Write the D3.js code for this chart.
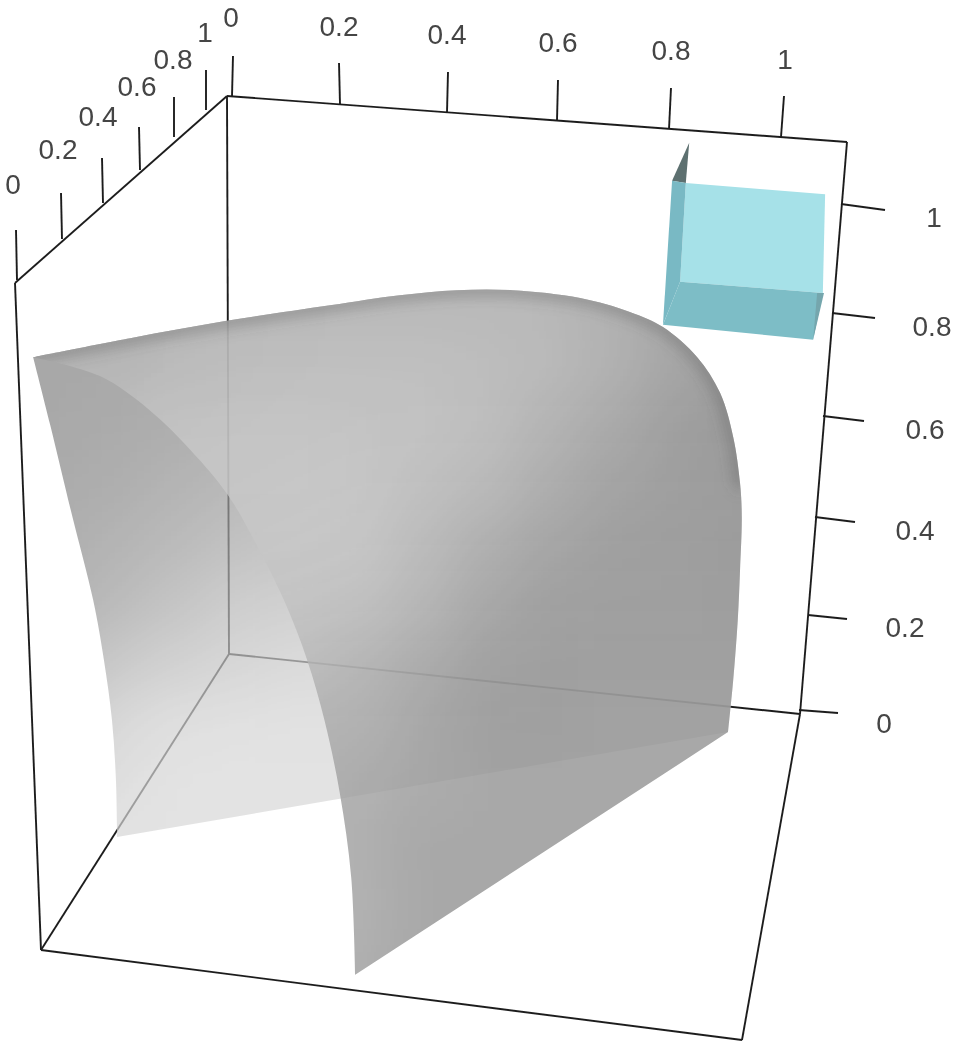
<!DOCTYPE html>
<html lang="en">
<head>
<meta charset="UTF-8">
<title>Surface in a unit box</title>
<script src="https://d3js.org/d3.v7.min.js"></script>
<style>
  html, body { margin: 0; padding: 0; background: #fff; }
  svg { display: block; }
  text { font-family: "Liberation Sans", Arial, sans-serif; font-size: 28px; fill: #444; text-anchor: middle; dominant-baseline: central; }
</style>
</head>
<body>
<svg width="957" height="1048"></svg>
<script>
// tick values, same on all three axes
const tickValues = [0, 0.2, 0.4, 0.6, 0.8, 1];
const tickLabels = ["0", "0.2", "0.4", "0.6", "0.8", "1"];

// surface outlines as [u, w], read against the back wall of the box (u along floor edge, w up)
const domeCurve = [[-0.343,0.532],[-0.173,0.566],[-0.004,0.597],[0.177,0.625],[0.299,0.643],[0.399,0.652],[0.497,0.652],
  [0.615,0.638],[0.702,0.613],[0.760,0.586],[0.820,0.532],[0.860,0.468],[0.883,0.389],[0.895,0.306],[0.898,0.246],
  [0.895,0.151],[0.891,0.061],[0.883,-0.047],[0.874,-0.140]];
const ridgeCurve = [[-0.343,0.532],[-0.226,0.498],[-0.138,0.436],[-0.068,0.366],[-0.002,0.285],[0.044,0.204],[0.096,0.097],
  [0.137,-0.011],[0.167,-0.118],[0.194,-0.249],[0.214,-0.400],[0.221,-0.575]];
const sideCurve = [[-0.343,0.532],[-0.313,0.410],[-0.275,0.249],[-0.238,0.097],[-0.219,-0.011],[-0.205,-0.118],
  [-0.198,-0.226],[-0.196,-0.328]];

// cyan box faces
const cubeSpike = [[0.806,0.916],[0.776,0.848],[0.800,0.844]];
const cubeBack = [[0.800,0.844],[1.044,0.824],[1.040,0.647],[0.790,0.667]];
const cubeLeft = [[0.776,0.848],[0.800,0.844],[0.790,0.667],[0.760,0.590]];
const cubeFloor = [[0.790,0.667],[1.040,0.647],[1.023,0.563],[0.760,0.590]];
const cubeEnd = [[1.030,0.647],[1.042,0.647],[1.023,0.563]];

// gray levels of the two sheets, rows top to bottom
const backShade = [
  [131,131,135,140,145,150,150,150,150,150,150,150],
  [131,133,136,140,146,150,152,152,152,152,152,152],
  [133,136,140,146,152,156,158,158,158,158,158,158],
  [136,140,148,156,162,168,168,168,168,168,168,168],
  [140,148,158,168,176,182,182,182,182,182,182,182],
  [145,158,172,185,190,192,192,192,192,192,192,192],
  [152,178,190,198,204,204,204,204,204,204,204,204],
  [165,200,210,212,214,214,214,214,214,214,214,214],
  [180,210,215,216,216,216,216,216,216,216,216,216],
  [215,215,215,216,216,216,216,216,216,216,216,216],
  [215,215,215,216,216,216,216,216,216,216,216,216],
  [215,215,215,216,216,216,216,216,216,216,216,216]
];
const frontShade = [
  [177,179,185,187,187,187,187,187,185,177,164,154],
  [186,186,192,195,195,195,195,192,187,177,162,151],
  [191,197,201,201,201,199,196,191,178,165,152,147],
  [199,199,201,201,201,199,191,183,168,155,150,146],
  [199,199,199,199,199,196,183,168,155,148,146,144],
  [195,195,195,195,192,187,174,156,147,145,145,144],
  [185,185,185,185,182,172,159,146,143,144,144,144],
  [173,173,173,173,167,164,151,142,142,144,144,144],
  [164,164,164,164,164,156,150,144,144,144,144,144],
  [154,154,154,154,154,154,144,144,144,144,144,144],
  [156,156,156,156,156,156,144,144,144,144,144,144],
  [154,154,154,154,154,154,144,144,144,144,144,144]
];

const svg = d3.select("svg");
const wallX = d3.scaleLinear().domain([0, 1]).range([229, 800]);
const wallY = d3.scaleLinear().domain([0, 1]).range([654, 96]);

const line = d3.line().x(d => wallX(d[0])).y(d => wallY(d[1]));
const curve = d3.line().x(d => wallX(d[0])).y(d => wallY(d[1])).curve(d3.curveCatmullRom);
const frontPath = curve(domeCurve) + "L" + curve(ridgeCurve.slice().reverse()).slice(1) + "Z";
const backPath = curve(sideCurve) + "L" + curve(domeCurve.slice().reverse()).slice(1) + "Z";

const defs = svg.append("defs");
function blurFilter(id, amount) {
  defs.append("filter").attr("id", id).attr("filterUnits", "userSpaceOnUse")
    .attr("x", 0).attr("y", 0).attr("width", 957).attr("height", 1048)
    .append("feGaussianBlur").attr("stdDeviation", amount);
}
blurFilter("soft", 24);
blurFilter("rim", 7);
blurFilter("aa", 0.45);
defs.append("clipPath").attr("id", "clipFront").append("path").attr("d", frontPath);
defs.append("clipPath").attr("id", "clipBack").append("path").attr("d", backPath);

// box frame, corners on screen
const corner = {
  topBack: [227, 96], topRight: [847, 142], topFront: [15, 283],
  floorBack: [229, 654], floorRight: [800, 714], floorFront: [41, 950], floorNear: [742, 1040]
};
const edges = [
  ["topBack","topRight"],["topBack","topFront"],["topBack","floorBack"],["topFront","floorFront"],
  ["topRight","floorRight"],["floorRight","floorNear"],["floorBack","floorFront"],["floorFront","floorNear"],["floorBack","floorRight"]
];
const frame = svg.append("g").attr("filter", "url(#aa)").attr("stroke", "#1f1f1f").attr("stroke-width", 1.9);
frame.selectAll("line").data(edges).enter().append("line")
  .attr("x1", d => corner[d[0]][0]).attr("y1", d => corner[d[0]][1])
  .attr("x2", d => corner[d[1]][0]).attr("y2", d => corner[d[1]][1]);

// axes: base, tip and label anchors follow the perspective of each edge
const axes = [
  { base: [[232,96],[340,104],[447,112],[557,120],[669,129],[781,137]],
    tip: [[233,56],[339,63],[448,72],[558,80],[671,88],[784,96]],
    label: [[231,17],[339,26],[447,34],[558,42],[671,50],[785,59]] },
  { base: [[17,280],[62,239],[103,203],[140,170],[174,137],[206,110]],
    tip: [[16,230],[61,193],[102,158],[139,127],[174,97],[206,70]],
    label: [[13,184],[58,149],[98,116],[137,86],[173,59],[205,32]] },
  { base: [[799,710],[808,615],[815,517],[823,416],[832,313],[841,204]],
    tip: [[838,713],[847,619],[855,522],[864,421],[875,318],[885,210]],
    label: [[884,723],[905,627],[915,530],[925,429],[932,326],[934,217]] }
];
axes.forEach(a => {
  const base = d3.scaleLinear().domain(tickValues).range(a.base);
  const tip = d3.scaleLinear().domain(tickValues).range(a.tip);
  const label = d3.scaleLinear().domain(tickValues).range(a.label);
  frame.append("g").selectAll("line").data(tickValues).enter().append("line")
    .attr("x1", d => base(d)[0]).attr("y1", d => base(d)[1])
    .attr("x2", d => tip(d)[0]).attr("y2", d => tip(d)[1]);
  svg.append("g").attr("filter", "url(#aa)").selectAll("text").data(tickValues).enter().append("text")
    .attr("x", d => label(d)[0]).attr("y", d => label(d)[1])
    .text((d, i) => tickLabels[i]);
});

// cyan box
const cube = svg.append("g").attr("filter", "url(#aa)");
[[cubeSpike,"#5d7070"],[cubeBack,"#a6e1e8"],[cubeLeft,"#79b9c4"],[cubeFloor,"#7dbdc6"],[cubeEnd,"#74a6ad"]].forEach(f => {
  cube.append("path").attr("d", line(f[0]) + "Z").attr("fill", f[1]);
});

// sheets: coarse shade cells, blurred and clipped to the outline
const col = d3.scaleBand().domain(d3.range(12)).range([20, 764]);
const row = d3.scaleBand().domain(d3.range(12)).range([280, 988]);
function sheet(shade, clip, alpha) {
  const outer = svg.append("g").attr("opacity", alpha).attr("clip-path", clip);
  const g = outer.append("g").attr("filter", "url(#soft)").attr("shape-rendering", "crispEdges");
  shade.forEach((r, j) => {
    g.selectAll(null).data(r).enter().append("rect")
      .attr("x", (d, i) => col(i) - (i === 0 ? 90 : 0))
      .attr("y", row(j) - (j === 0 ? 90 : 0))
      .attr("width", (d, i) => col.bandwidth() + (i === 0 || i === 11 ? 90 : 0) + 1)
      .attr("height", row.bandwidth() + (j === 0 || j === 11 ? 90 : 0) + 1)
      .attr("fill", d => d3.rgb(d, d, d));
  });
  return outer;
}
sheet(backShade, "url(#clipBack)", 0.7);
const front = sheet(frontShade, "url(#clipFront)", 0.78);

// darker rim where the dome turns away
front.append("path").attr("d", curve(domeCurve.slice(0, 14)))
  .attr("fill", "none").attr("stroke", "#4a4a4a").attr("stroke-width", 13)
  .attr("stroke-linecap", "round").attr("stroke-opacity", 0.42).attr("filter", "url(#rim)");
</script>
</body>
</html>
